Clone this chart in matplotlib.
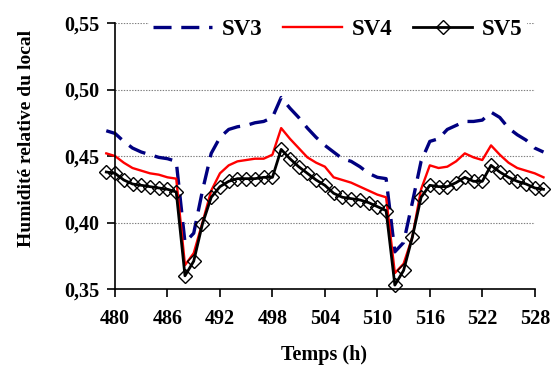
import numpy as np
import matplotlib
matplotlib.use('Agg')
import matplotlib.pyplot as plt

plt.rcParams['font.family'] = ['Liberation Serif', 'DejaVu Serif']
plt.rcParams['font.weight'] = 'bold'
plt.rcParams['axes.labelweight'] = 'bold'
plt.rcParams['lines.scale_dashes'] = False

hours = list(range(479, 530))

sv3 = [0.469, 0.467, 0.461, 0.456, 0.453, 0.451, 0.449, 0.448, 0.446,
       0.385, 0.392, 0.424, 0.452, 0.464, 0.470, 0.472, 0.473, 0.475, 0.476,
       0.479, 0.494, 0.486, 0.479, 0.471, 0.464, 0.458, 0.453, 0.448, 0.446,
       0.442, 0.437, 0.434, 0.433, 0.378, 0.385, 0.415, 0.446, 0.461, 0.463,
       0.470, 0.473, 0.476, 0.476, 0.477, 0.483, 0.479, 0.471, 0.466, 0.462,
       0.456, 0.453]

sv4 = [0.452, 0.450, 0.445, 0.441, 0.439, 0.437, 0.436, 0.434, 0.433,
       0.368, 0.377, 0.400, 0.424, 0.437, 0.443, 0.446, 0.447, 0.448, 0.448,
       0.451, 0.471, 0.463, 0.456, 0.449, 0.445, 0.442, 0.434, 0.432, 0.430,
       0.427, 0.424, 0.421, 0.419, 0.362, 0.369, 0.389, 0.425, 0.443, 0.441,
       0.442, 0.446, 0.452, 0.449, 0.447, 0.458, 0.451, 0.445, 0.441, 0.439,
       0.437, 0.434]

sv5 = [0.438, 0.437, 0.432, 0.429, 0.428, 0.427, 0.426, 0.425, 0.423,
       0.360, 0.371, 0.399, 0.419, 0.427, 0.431, 0.433, 0.433, 0.433, 0.434,
       0.434, 0.455, 0.448, 0.442, 0.437, 0.432, 0.428, 0.422, 0.419, 0.418,
       0.417, 0.415, 0.412, 0.409, 0.353, 0.364, 0.389, 0.419, 0.428, 0.427,
       0.427, 0.430, 0.434, 0.431, 0.431, 0.443, 0.438, 0.434, 0.431, 0.429,
       0.426, 0.425]

x_ticks = [480, 486, 492, 498, 504, 510, 516, 522, 528]
y_ticks = [0.35, 0.40, 0.45, 0.50, 0.55]

fig = plt.figure(figsize=(5.53, 3.65), dpi=100)
ax = fig.add_axes([0.208, 0.208, 0.759, 0.729])

ax.plot(hours, sv3, color='#000080', lw=2.4, dashes=(13, 7), label='SV3', clip_on=False)
ax.plot(hours, sv4, color='#ff0000', lw=1.7, label='SV4', clip_on=False)
ax.plot(hours, sv5, color='black', lw=2.0, marker='D', markersize=7.5,
        markerfacecolor='none', markeredgecolor='black', markeredgewidth=1.0,
        label='SV5', clip_on=False)

ax.set_xlim(480, 528)
ax.set_ylim(0.35, 0.55)
ax.set_xticks(x_ticks)
ax.set_yticks(y_ticks)
ax.set_yticklabels([f'{v:.2f}'.replace('.', ',') for v in y_ticks])
ax.tick_params(axis='both', labelsize=14.5, length=6, width=1.2, direction='out', pad=5)
ax.tick_params(axis='x', pad=8)
ax.grid(axis='y', color='#808080', linestyle=(0, (1, 1)), linewidth=0.8)
ax.set_axisbelow(True)
ax.spines[['right', 'top']].set_visible(False)
ax.spines[['left', 'bottom']].set_linewidth(1.2)

ax.set_ylabel('Humidité relative du local', fontsize=14)
ax.set_xlabel('Temps (h)', fontsize=14.5)
ax.yaxis.set_label_coords(-0.19, 0.568)
ax.xaxis.set_label_coords(0.498, -0.21)

leg = ax.legend(loc='center', bbox_to_anchor=(0.53, 0.975), ncol=3, frameon=True,
                fontsize=16.5, handlelength=2.6, handletextpad=0.4, columnspacing=0.9,
                borderpad=0.15, borderaxespad=0)
leg.get_frame().set_edgecolor('white')
leg.get_frame().set_facecolor('white')
leg.get_frame().set_alpha(1)

plt.savefig('out.png', dpi=100)
